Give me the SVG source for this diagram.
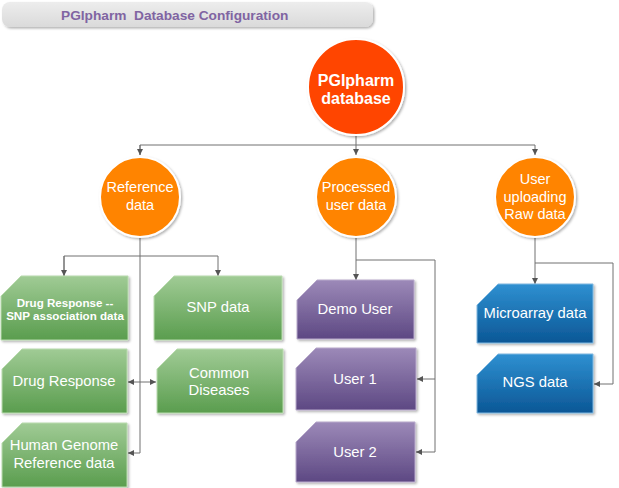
<svg xmlns="http://www.w3.org/2000/svg" width="619" height="488" viewBox="0 0 619 488">
<defs>
  <linearGradient id="gTitle" x1="0" y1="0" x2="0" y2="1">
    <stop offset="0" stop-color="#EDEDED"/><stop offset="1" stop-color="#DADADA"/>
  </linearGradient>
  <linearGradient id="gGreen" x1="0" y1="0" x2="0" y2="1">
    <stop offset="0" stop-color="#A0CB95"/><stop offset="1" stop-color="#5A9D4E"/>
  </linearGradient>
  <linearGradient id="gPurple" x1="0" y1="0" x2="0" y2="1">
    <stop offset="0" stop-color="#9C89B8"/><stop offset="1" stop-color="#5D4883"/>
  </linearGradient>
  <linearGradient id="gBlue" x1="0" y1="0" x2="0" y2="1">
    <stop offset="0" stop-color="#2F90D1"/><stop offset="1" stop-color="#0B5796"/>
  </linearGradient>
  <filter id="sh" x="-10%" y="-10%" width="130%" height="130%">
    <feDropShadow dx="1.5" dy="1.5" stdDeviation="1.2" flood-color="#000" flood-opacity="0.3"/>
  </filter>
  <marker id="arr" markerWidth="7" markerHeight="7" refX="6" refY="3.5" orient="auto" markerUnits="userSpaceOnUse">
    <path d="M0,0.5 L6,3.5 L0,6.5 Z" fill="#555"/>
  </marker>
  <marker id="arrS" markerWidth="7" markerHeight="7" refX="1" refY="3.5" orient="auto" markerUnits="userSpaceOnUse">
    <path d="M7,0.5 L1,3.5 L7,6.5 Z" fill="#555"/>
  </marker>
</defs>
<style>
  .cn { fill: none; stroke: #707070; stroke-width: 1; }
  .t { font-family: "Liberation Sans", Arial, sans-serif; fill: #fff; text-anchor: middle; dominant-baseline: central; }
  .bx { font-size: 14.8px; }
  .cc { font-size: 14.5px; }
  .bd { font-weight: bold; }
  .green { fill: url(#gGreen); stroke: #B9DBAE; stroke-width: 1; filter: url(#sh); }
  .purple { fill: url(#gPurple); stroke: #B8AACB; stroke-width: 1; filter: url(#sh); }
  .blue { fill: url(#gBlue); stroke: #7FB7E0; stroke-width: 1; filter: url(#sh); }
  .orange { fill: #FF8400; stroke: #fff; stroke-width: 2; filter: url(#sh); }
</style>
<rect width="619" height="488" fill="#fff"/>

<g id="title">
  <rect x="2" y="2" width="371" height="25" rx="8" fill="url(#gTitle)" filter="url(#sh)"/>
  <text x="61" y="15" font-family="'Liberation Sans', Arial, sans-serif" font-size="13.7" font-weight="bold" fill="#8064A2" dominant-baseline="central" xml:space="preserve">PGIpharm  Database Configuration</text>
</g>

<g id="connectors">
  <path class="cn" d="M356,134 V145"/>
  <path class="cn" d="M140,155 V145 H535 V155" marker-end="url(#arr)"/>
  <path class="cn" d="M140,145 V155" marker-end="url(#arr)"/>
  <path class="cn" d="M356,145 V155" marker-end="url(#arr)"/>
  <path class="cn" d="M140,237 V453 H128" marker-end="url(#arr)"/>
  <path class="cn" d="M64,276 V256 H218 V276" marker-end="url(#arr)"/>
  <path class="cn" d="M64,256 V276" marker-end="url(#arr)"/>
  <path class="cn" d="M128,382 H156" marker-start="url(#arrS)" marker-end="url(#arr)"/>
  <path class="cn" d="M356,237 V280" marker-end="url(#arr)"/>
  <path class="cn" d="M356,260 H435 V452 H416" marker-end="url(#arr)"/>
  <path class="cn" d="M435,379 H417" marker-end="url(#arr)"/>
  <path class="cn" d="M535,237 V284" marker-end="url(#arr)"/>
  <path class="cn" d="M535,263 H613 V384 H594" marker-end="url(#arr)"/>
</g>

<g id="pgipharm-db">
  <circle cx="356" cy="87" r="48" fill="#FF4500" stroke="#fff" stroke-width="2" filter="url(#sh)"/>
  <text class="t bd" x="356" y="80" font-size="16">PGIpharm</text>
  <text class="t bd" x="356" y="98" font-size="16">database</text>
</g>

<g id="reference-data">
  <circle class="orange" cx="140" cy="197" r="40"/>
  <text class="t cc" x="140" y="187">Reference</text>
  <text class="t cc" x="140" y="205">data</text>
</g>
<g id="processed-user-data">
  <circle class="orange" cx="356" cy="197" r="40"/>
  <text class="t cc" x="356" y="187">Processed</text>
  <text class="t cc" x="356" y="205">user data</text>
</g>
<g id="user-uploading">
  <circle class="orange" cx="535" cy="197" r="40"/>
  <text class="t cc" x="535" y="179">User</text>
  <text class="t cc" x="535" y="197">uploading</text>
  <text class="t cc" x="535" y="214">Raw data</text>
</g>

<g id="drug-snp">
  <path class="green" d="M21,276 H128 V340 H1 V296 Z"/>
  <text class="t bd" x="65" y="302" font-size="11.6">Drug Response --</text>
  <text class="t bd" x="65" y="315" font-size="11.6">SNP association data</text>
</g>
<g id="snp-data">
  <path class="green" d="M174,276 H282 V340 H154 V296 Z"/>
  <text class="t bx" x="218" y="307">SNP data</text>
</g>
<g id="drug-response">
  <path class="green" d="M22,349 H127 V413 H2 V369 Z"/>
  <text class="t bx" x="64" y="381">Drug Response</text>
</g>
<g id="common-diseases">
  <path class="green" d="M177,349 H283 V413 H157 V369 Z"/>
  <text class="t bx" x="219" y="373">Common</text>
  <text class="t bx" x="219" y="390">Diseases</text>
</g>
<g id="human-genome">
  <path class="green" d="M22,423 H127 V487 H2 V443 Z"/>
  <text class="t bx" x="64" y="445">Human Genome</text>
  <text class="t bx" x="64" y="463">Reference data</text>
</g>

<g id="demo-user">
  <path class="purple" d="M317,280 H414 V339 H297 V300 Z"/>
  <text class="t bx" x="355" y="309">Demo User</text>
</g>
<g id="user-1">
  <path class="purple" d="M316,348 H416 V410 H296 V368 Z"/>
  <text class="t bx" x="355" y="379">User 1</text>
</g>
<g id="user-2">
  <path class="purple" d="M316,422 H415 V482 H296 V442 Z"/>
  <text class="t bx" x="355" y="452">User 2</text>
</g>

<g id="microarray">
  <path class="blue" d="M498,284 H593 V343 H477 V305 Z"/>
  <text class="t bx" x="535" y="313">Microarray data</text>
</g>
<g id="ngs">
  <path class="blue" d="M498,354 H593 V413 H477 V375 Z"/>
  <text class="t bx" x="535" y="382">NGS data</text>
</g>
</svg>
